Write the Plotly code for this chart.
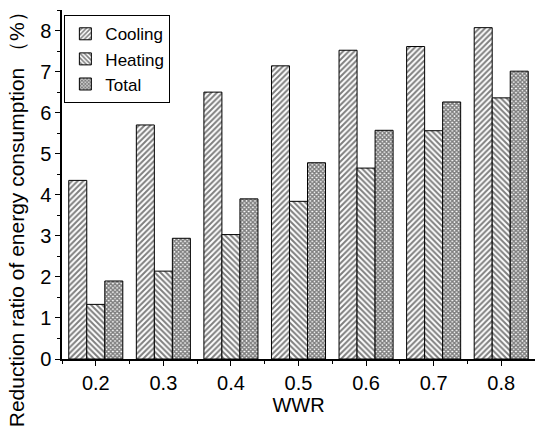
import plotly.graph_objects as go

wwr = [0.2, 0.3, 0.4, 0.5, 0.6, 0.7, 0.8]
tick_labels = ["0.2", "0.3", "0.4", "0.5", "0.6", "0.7", "0.8"]
cooling = [4.35, 5.70, 6.50, 7.14, 7.52, 7.61, 8.07]
heating = [1.33, 2.14, 3.03, 3.84, 4.65, 5.56, 6.36]
total = [1.90, 2.94, 3.90, 4.78, 5.57, 6.26, 7.01]
y_title = "Reduction ratio of energy consumption （%）"

series = [
    ("Cooling", cooling, "/", 4, 0.5),
    ("Heating", heating, "\\", 4, 0.5),
    ("Total", total, "x", 3, 0.75),
]

FONT = "Liberation Sans, Arial, sans-serif"

fig = go.Figure()
for name, vals, shape, size, sol in series:
    fig.add_trace(go.Bar(
        x=wwr, y=vals, name=name,
        marker=dict(
            color="white",
            line=dict(color="black", width=1),
            pattern=dict(shape=shape, fgcolor="black", bgcolor="white",
                         size=size, solidity=sol, fillmode="overlay"),
        ),
    ))

fig.add_annotation(
    text=y_title, textangle=-90, xref="paper", yref="paper",
    x=-0.097, y=0.415, xanchor="center", yanchor="middle",
    showarrow=False, font=dict(size=21, family=FONT, color="black"),
)

fig.update_layout(
    width=535, height=432,
    margin=dict(l=62, r=0, t=10, b=73),
    paper_bgcolor="white", plot_bgcolor="white",
    barmode="group", bargap=0.2, bargroupgap=0.0,
    font=dict(family=FONT, size=20, color="black"),
    showlegend=True,
    legend=dict(
        x=0.005, y=0.985, xanchor="left", yanchor="top",
        bordercolor="black", borderwidth=1, bgcolor="white",
        font=dict(size=17, family=FONT), tracegroupgap=0,
        itemwidth=30,
    ),
    xaxis=dict(
        range=[0.15, 0.85], tickvals=wwr, ticktext=tick_labels,
        ticks="outside", ticklen=5, tickwidth=1, tickcolor="black",
        minor=dict(dtick=0.1, tick0=0.15, ticks="outside", ticklen=3, tickcolor="black"),
        showline=True, linecolor="black", linewidth=1.5,
        showgrid=False, zeroline=False,
        title=dict(text="WWR", font=dict(size=20), standoff=0),
        tickfont=dict(size=20),
    ),
    xaxis2=dict(
        overlaying="x", side="top", range=[0.15, 0.85],
        tickvals=wwr, showticklabels=False,
        ticks="inside", ticklen=3, tickcolor="black",
        minor=dict(dtick=0.1, tick0=0.15, ticks="inside", ticklen=2, tickcolor="black"),
        showline=True, linecolor="black", linewidth=1.5,
        showgrid=False, zeroline=False,
    ),
    yaxis=dict(
        range=[0, 8.5], tickvals=[0, 1, 2, 3, 4, 5, 6, 7, 8],
        ticks="outside", ticklen=5, tickwidth=1, tickcolor="black",
        minor=dict(dtick=0.5, ticks="outside", ticklen=3, tickcolor="black"),
        showline=True, linecolor="black", linewidth=1.5,
        showgrid=False, zeroline=False,
        tickfont=dict(size=20),
    ),
)

fig.write_html("out.html")
